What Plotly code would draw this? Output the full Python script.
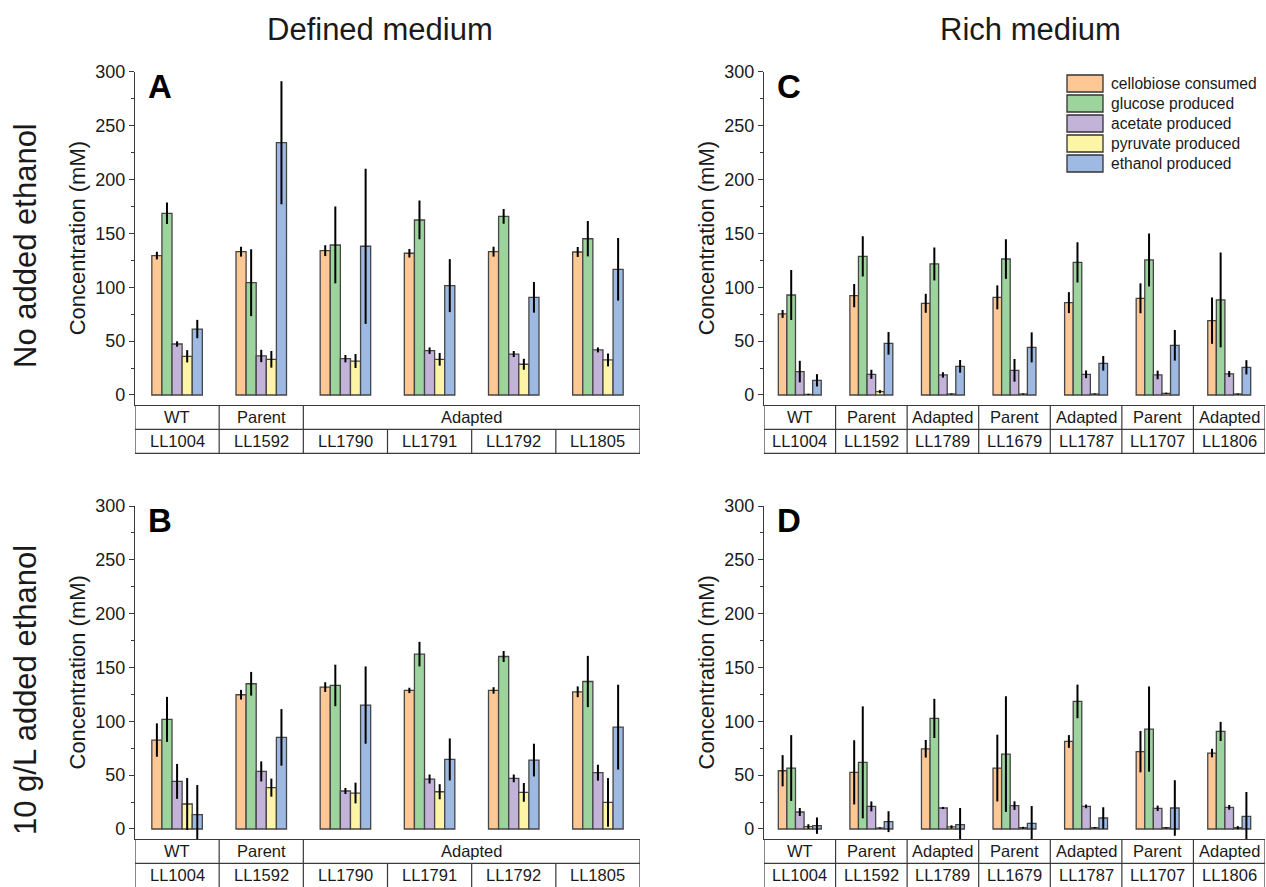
import plotly.graph_objects as go

W, H = 1266, 887

series = ["cellobiose consumed", "glucose produced", "acetate produced",
          "pyruvate produced", "ethanol produced"]
colors = ["#FDC896", "#9DD49D", "#C3B3D9", "#FDF5A5", "#9EBAE2"]

strains_defined = ["LL1004", "LL1592", "LL1790", "LL1791", "LL1792", "LL1805"]
types_defined = ["WT", "Parent", "Adapted", "Adapted", "Adapted", "Adapted"]
strains_rich = ["LL1004", "LL1592", "LL1789", "LL1679", "LL1787", "LL1707", "LL1806"]
types_rich = ["WT", "Parent", "Adapted", "Parent", "Adapted", "Parent", "Adapted"]

# Panel A: defined medium, no added ethanol
A_cellobiose = [129.3, 133.0, 133.9, 131.5, 133.0, 132.7]
A_cellobiose_err = [3.5, 4.6, 5.0, 3.9, 4.6, 4.6]
A_glucose = [168.6, 104.2, 139.2, 162.4, 165.8, 145.0]
A_glucose_err = [10, 31, 35.6, 18, 6.8, 16.4]
A_acetate = [47.3, 36.2, 33.7, 41.1, 38.0, 41.8]
A_acetate_err = [2.5, 5.7, 3.4, 3.0, 2.8, 2.3]
A_pyruvate = [35.9, 33.1, 31.5, 33.1, 28.5, 32.5]
A_pyruvate_err = [5.7, 7.7, 6.5, 5.9, 5.1, 6.0]
A_ethanol = [61.2, 234.1, 138.0, 101.5, 90.6, 116.6]
A_ethanol_err = [8.5, 57, 72, 24.6, 14.2, 29]

# Panel B: defined medium, 10 g/L added ethanol
B_cellobiose = [82.6, 124.7, 131.8, 128.7, 128.7, 127.4]
B_cellobiose_err = [15.5, 4.5, 4.5, 2.5, 3.0, 5.0]
B_glucose = [101.8, 134.9, 133.3, 162.4, 160.2, 137.0]
B_glucose_err = [20.9, 11, 19.3, 11.4, 5.1, 23.8]
B_acetate = [44.2, 53.5, 35.3, 46.4, 47.0, 52.3]
B_acetate_err = [16.2, 9.3, 2.8, 4.2, 3.6, 7.4]
B_pyruvate = [23.2, 38.4, 33.4, 34.6, 34.0, 24.7]
B_pyruvate_err = [24.1, 8.4, 9.6, 7.0, 8.7, 22.6]
B_ethanol = [13.3, 85.1, 115.1, 64.6, 64.0, 94.6]
B_ethanol_err = [27.5, 26.3, 35.9, 19.5, 15.2, 39.4]

# Panel C: rich medium, no added ethanol
C_cellobiose = [75.2, 92.2, 85.1, 90.6, 85.7, 89.7, 69.0]
C_cellobiose_err = [3.7, 10.8, 8.8, 11.1, 9.7, 13.9, 21.5]
C_glucose = [92.8, 128.7, 121.6, 126.2, 123.1, 125.3, 88.2]
C_glucose_err = [23.2, 18.7, 15.3, 18.4, 18.7, 24.6, 44]
C_acetate = [21.7, 19.2, 18.6, 22.9, 19.2, 18.6, 19.5]
C_acetate_err = [10, 4.2, 2.5, 10.5, 3.6, 4.0, 2.8]
C_pyruvate = [0.5, 3.1, 0.9, 0.9, 0.9, 1.5, 0.9]
C_pyruvate_err = [0.6, 1.5, 0.5, 0.5, 0.5, 0.6, 0.5]
C_ethanol = [13.6, 47.9, 26.6, 44.2, 29.4, 46.1, 25.7]
C_ethanol_err = [5.7, 10.5, 5.9, 13.9, 6.8, 14.2, 6.6]

# Panel D: rich medium, 10 g/L added ethanol
D_cellobiose = [54.1, 52.6, 74.5, 56.6, 81.3, 71.8, 70.5]
D_cellobiose_err = [14.5, 29.8, 8.2, 31, 5.9, 19.2, 4.0]
D_glucose = [56.6, 61.9, 102.7, 69.6, 118.5, 92.8, 90.6]
D_glucose_err = [30.6, 52, 18.2, 53.7, 15.6, 39.6, 8.9]
D_acetate = [15.8, 21.0, 19.5, 21.7, 21.0, 19.2, 20.1]
D_acetate_err = [3.7, 4.6, 1.0, 4.0, 1.7, 2.5, 2.2]
D_pyruvate = [2.2, 0.9, 1.9, 1.2, 1.2, 1.2, 1.2]
D_pyruvate_err = [2.2, 0.6, 1.5, 0.8, 0.6, 0.6, 1.5]
D_ethanol = [3.1, 6.8, 4.0, 5.3, 10.2, 19.5, 11.8]
D_ethanol_err = [7.6, 9.7, 15.5, 16, 10, 25.8, 22.6]

y_ticks = [0, 50, 100, 150, 200, 250, 300]
y_title = "Concentration (mM)"

panels = [
    # letter, strains, types, values, errors, axis suffix, x px domain, y px (top, bottom), table rows
    ("A", strains_defined, types_defined,
     [A_cellobiose, A_glucose, A_acetate, A_pyruvate, A_ethanol],
     [A_cellobiose_err, A_glucose_err, A_acetate_err, A_pyruvate_err, A_ethanol_err],
     "", (135, 640), (71.7, 405), (429.3, 453.3)),
    ("B", strains_defined, types_defined,
     [B_cellobiose, B_glucose, B_acetate, B_pyruvate, B_ethanol],
     [B_cellobiose_err, B_glucose_err, B_acetate_err, B_pyruvate_err, B_ethanol_err],
     "2", (135, 640), (506, 839), (863.3, 889)),
    ("C", strains_rich, types_rich,
     [C_cellobiose, C_glucose, C_acetate, C_pyruvate, C_ethanol],
     [C_cellobiose_err, C_glucose_err, C_acetate_err, C_pyruvate_err, C_ethanol_err],
     "3", (764, 1265), (71.7, 405), (429.3, 453.3)),
    ("D", strains_rich, types_rich,
     [D_cellobiose, D_glucose, D_acetate, D_pyruvate, D_ethanol],
     [D_cellobiose_err, D_glucose_err, D_acetate_err, D_pyruvate_err, D_ethanol_err],
     "4", (764, 1265), (506, 839), (863.3, 889)),
]

FONT = "Arial, Liberation Sans, sans-serif"
TXT = "#1a1a1a"
LINE = "#3a3a3a"

def px_x(p):
    return p / W

def px_y(p):
    return (H - p) / H

fig = go.Figure()
shapes = []
annotations = []
layout_axes = {}

def add_text(x, y, text, size, xref="paper", yref="paper", angle=0,
             xanchor="center", yanchor="middle", color=TXT):
    annotations.append(dict(x=x, y=y, xref=xref, yref=yref, text=text,
                            showarrow=False, textangle=angle,
                            xanchor=xanchor, yanchor=yanchor,
                            font=dict(family=FONT, size=size, color=color)))

for letter, strains, types, vals, errs, sfx, xd, yd, trows in panels:
    xa = "x" + sfx
    ya = "y" + sfx
    for name, col, v, e in zip(series, colors, vals, errs):
        fig.add_trace(go.Bar(
            x=strains, y=v, name=name, showlegend=False,
            marker=dict(color=col, line=dict(color="#454545", width=1.3)),
            error_y=dict(type="data", array=e, color="black", thickness=2, width=0),
            xaxis=xa, yaxis=ya,
        ))
    n = len(strains)
    layout_axes["xaxis" + sfx] = dict(
        domain=[px_x(xd[0]), px_x(xd[1])], anchor=ya, automargin=False,
        type="category", categoryorder="array", categoryarray=strains,
        range=[-0.5, n - 0.5], showticklabels=False, ticks="",
        showline=True, linecolor=LINE, linewidth=1.2, showgrid=False, zeroline=False,
    )
    layout_axes["yaxis" + sfx] = dict(
        domain=[px_y(yd[1]), px_y(yd[0])], anchor=xa, automargin=False,
        range=[-9.3, 300], tickvals=y_ticks, ticks="outside", ticklen=5,
        tickcolor=LINE, tickwidth=1, showline=True, linecolor=LINE, linewidth=1.2,
        showgrid=False, zeroline=False,
        tickfont=dict(family=FONT, size=18, color=TXT),
        minor=dict(dtick=25, ticks="outside", ticklen=3, tickcolor=LINE),
    )
    # y-axis title
    add_text(px_x(xd[0] - 58), px_y((yd[0] + yd[1]) / 2), y_title, 22, angle=-90)
    # table below the axis
    y_top = px_y(yd[1])
    y_mid = px_y(trows[0])
    y_bot = px_y(trows[1])
    line = dict(color=LINE, width=1.2)
    for xv in (-0.5, n - 0.5):
        shapes.append(dict(type="line", xref=xa, yref="paper", x0=xv, x1=xv,
                           y0=y_top, y1=y_bot, line=line))
    for yy in (y_mid, y_bot):
        shapes.append(dict(type="line", xref=xa, yref="paper", x0=-0.5, x1=n - 0.5,
                           y0=yy, y1=yy, line=line))
    for i, s in enumerate(strains):
        if i > 0:
            shapes.append(dict(type="line", xref=xa, yref="paper", x0=i - 0.5, x1=i - 0.5,
                               y0=y_mid, y1=y_bot, line=line))
        add_text(i, (y_mid + px_y(trows[0] + 24)) / 2, s, 16.5, xref=xa)
    start = 0
    for i in range(1, n + 1):
        if i == n or types[i] != types[start]:
            if start > 0:
                shapes.append(dict(type="line", xref=xa, yref="paper",
                                   x0=start - 0.5, x1=start - 0.5,
                                   y0=y_top, y1=y_mid, line=line))
            add_text((start + i - 1) / 2, (y_top + y_mid) / 2, types[start], 16.5, xref=xa)
            start = i
    # panel letter
    add_text(px_x(xd[0] + 11), px_y(yd[0] + 15), "<b>%s</b>" % letter, 33,
             xanchor="left", color="black")

# column and row titles
add_text(px_x(380), px_y(29), "Defined medium", 31)
add_text(px_x(1030), px_y(29), "Rich medium", 31)
add_text(px_x(25), px_y(246), "No added ethanol", 31, angle=-90)
add_text(px_x(25), px_y(690), "10 g/L added ethanol", 31, angle=-90)

# legend drawn inside panel C
for k, (name, col) in enumerate(zip(series, colors)):
    top = 75 + 20 * k
    shapes.append(dict(type="rect", xref="paper", yref="paper",
                       x0=px_x(1067), x1=px_x(1103), y0=px_y(top + 17), y1=px_y(top),
                       fillcolor=col, line=dict(color="#333333", width=1.3)))
    add_text(px_x(1109), px_y(top + 8.5), name, 15.6, xanchor="left")

fig.update_layout(
    width=W, height=H, margin=dict(l=0, r=0, t=0, b=0, autoexpand=False),
    paper_bgcolor="white", plot_bgcolor="white",
    barmode="group", bargap=0.4, bargroupgap=0,
    shapes=shapes, annotations=annotations, showlegend=False,
    **layout_axes,
)

fig.write_html("out.html", config={"displayModeBar": False},
               post_script="document.body.style.margin='0';document.body.style.overflow='hidden';")
